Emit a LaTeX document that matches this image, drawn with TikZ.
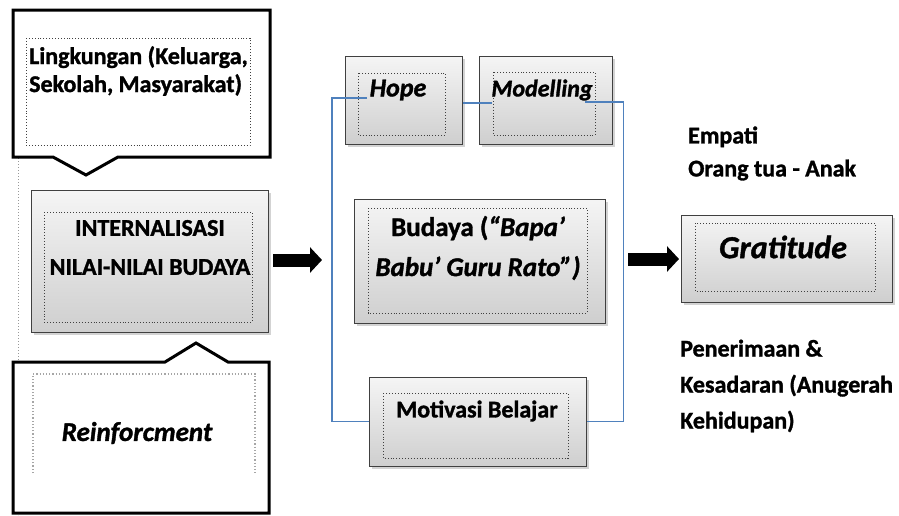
\documentclass[tikz,border=0pt]{standalone}
\usepackage{fontspec}
\setmainfont{Carlito}[BoldFeatures={FakeBold=1.3},BoldItalicFeatures={FakeBold=1.3}]
\usetikzlibrary{shadows,arrows.meta,calc}

\definecolor{linkblue}{HTML}{4F81BD}

\tikzset{
  box/.style={draw=black!75, line width=1pt, top color=gray!8, bottom color=gray!38,
    minimum width=#1, inner sep=0pt,
    drop shadow={shadow xshift=2.5pt, shadow yshift=-2.5pt, opacity=0.35}},
  innerline/.style={draw=black!75, dotted, line width=0.9pt},
  callout/.style={draw=black, line width=3pt, fill=white, line join=miter},
  link/.style={draw=linkblue, line width=1.2pt},
  blockarrow/.style={line width=13pt, -{Triangle[length=12pt,width=25pt]}},
  txt/.style={inner sep=0pt, font=\fontsize{24}{28}\selectfont\bfseries},
  itxt/.style={inner sep=0pt, font=\fontsize{24}{28}\selectfont\bfseries\itshape},
}

\begin{document}
\begin{tikzpicture}[x=1pt,y=-1pt]
\useasboundingbox (0,0) rectangle (899,515);

% left guide line
\draw[gray!80, dotted, line width=1pt] (18,158) -- (18,515);

% environment callout pointing down
\draw[callout] (13,10) -- (270,10) -- (270,157) -- (118,157) -- (86,175) -- (53,157) -- (13,157) -- cycle;
\draw[innerline] (26,38) rectangle (250,145);
\node[txt, anchor=west, align=left] (env) at (29,71) {Lingkungan (Keluarga,\\Sekolah, Masyarakat)};

% reinforcement callout pointing up
\draw[callout] (13,362) -- (165,362) -- (196,343) -- (228,362) -- (269,362) -- (269,513) -- (13,513) -- cycle;
\draw[gray!70, dotted, line width=1.2pt] (33,473) -- (33,374) -- (255,374) -- (255,473);
\node[itxt, font=\fontsize{27}{30}\selectfont\bfseries\itshape] (reinf) at (137,433) {Reinforcment};

% internalisation box
\node[box=237pt, minimum height=142pt] (intern) at (149.5,261) {};
\draw[innerline] (44,212) rectangle (252,322);
\node[txt, align=center, font=\fontsize{24}{39}\selectfont\bfseries] (interntxt) at (150,247.5) {INTERNALISASI\\NILAI-NILAI BUDAYA};

% middle column
\node[box=117pt, minimum height=88pt] (hope) at (403.5,100) {};
\draw[innerline] (358,73) rectangle (445,135);
\node[itxt, font=\fontsize{26}{28}\selectfont\bfseries\itshape] (hopetxt) at (398,90) {Hope};

\node[box=133pt, minimum height=88pt] (model) at (545.5,100) {};
\draw[innerline] (493,72) rectangle (595,135);
\node[itxt] (modeltxt) at (542,90) {Modelling};

\node[box=251pt, minimum height=124pt] (budaya) at (479.5,261) {};
\draw[innerline] (368,208) rectangle (587,313);
\node[txt, align=center, font=\fontsize{27}{40}\selectfont\bfseries] (budayatxt) at (478,248)
  {Budaya (\textit{“Bapa’}\\\textit{Babu’ Guru Rato”)}};

\node[box=217pt, minimum height=89pt] (motiv) at (477.5,421.5) {};
\draw[innerline] (383,393) rectangle (568,458);
\node[txt] (motivtxt) at (477,411) {Motivasi Belajar};

% result box
\node[box=211pt, minimum height=87pt] (grat) at (786.5,258.5) {};
\draw[innerline] (695,223) rectangle (875,291);
\node[itxt, font=\fontsize{32}{36}\selectfont\bfseries\itshape] (grattxt) at (783,247) {Gratitude};

% side notes
\node[txt, anchor=west, align=left, font=\fontsize{24}{33}\selectfont\bfseries] (empati) at (688,153.5)
  {Empati\\Orang tua - Anak};
\node[txt, anchor=west, align=left, font=\fontsize{24}{36}\selectfont\bfseries] (terima) at (680,386)
  {Penerimaan \&\\Kesadaran (Anugerah\\Kehidupan)};

% blue connectors
\coordinate (hopein) at (367,98);
\coordinate (modelin) at (492,103);
\coordinate (modelout) at (585,102);
\draw[link] (hopein) -- (332,98) |- (motiv.west);
\draw[link] ($(hope.east)+(0,3)$) -- (modelin);
\draw[link] (modelout) -| ($(motiv.east)+(37,0)$) -- (motiv.east);

% block arrows
\coordinate (a1s) at (273,260);
\coordinate (a1e) at (322,260);
\coordinate (a2s) at (628,259);
\coordinate (a2e) at (679,259);
\draw[blockarrow] (a1s) -- (a1e);
\draw[blockarrow] (a2s) -- (a2e);
\end{tikzpicture}
\end{document}
